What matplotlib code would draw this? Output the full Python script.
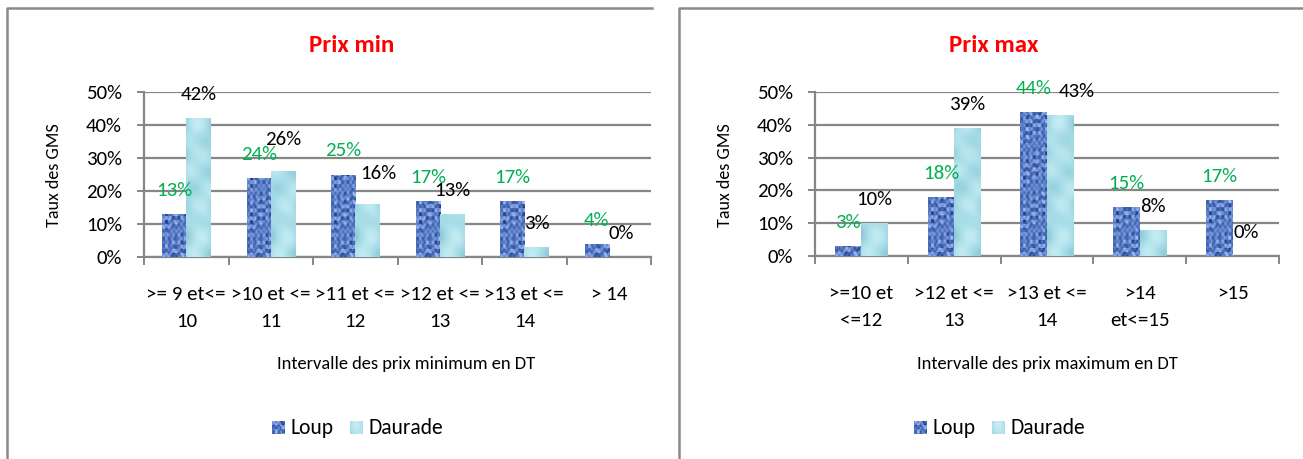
import numpy as np
import matplotlib
matplotlib.use("Agg")
import matplotlib.pyplot as plt
from matplotlib import font_manager
from matplotlib.colors import LinearSegmentedColormap
from matplotlib.lines import Line2D

# ---- data -------------------------------------------------------------
series_names = ["Loup", "Daurade"]

min_categories = [">= 9 et<=\n10", ">10 et <=\n11", ">11 et <=\n12",
                  ">12 et <=\n13", ">13 et <=\n14", "> 14"]
min_loup = [0.13, 0.24, 0.25, 0.17, 0.17, 0.04]
min_daurade = [0.42, 0.26, 0.16, 0.13, 0.03, 0.00]

max_categories = [">=10 et\n<=12", ">12 et <=\n13", ">13 et <=\n14",
                  ">14\net<=15", ">15"]
max_loup = [0.03, 0.18, 0.44, 0.15, 0.17]
max_daurade = [0.10, 0.39, 0.43, 0.08, 0.00]

yticks = [0.0, 0.1, 0.2, 0.3, 0.4, 0.5]

# ---- style ------------------------------------------------------------
W, H = 1303, 459
DPI = 100
installed = {f.name for f in font_manager.fontManager.ttflist}
FONT = "Carlito" if "Carlito" in installed else "Lato"
plt.rcParams["font.family"] = [FONT, "DejaVu Sans"]

GRID = "#868686"
BORDER = "#8a8a8a"
GREEN = "#00b050"
BAR_W = 1 / 3.5  # gap width 150 %
LABEL_FS = 15

loup_cmap = LinearSegmentedColormap.from_list(
    "loup", ["#102a70", "#2f52a2", "#5a7dc8", "#93aee6", "#c2d3f3"])
daurade_cmap = LinearSegmentedColormap.from_list(
    "daurade", ["#86c4d3", "#a3dae6", "#bfe9f0", "#dcf5f8"])


def weave(h, w):
    # blocky woven texture for the "Loup" fill
    y, x = np.mgrid[0:h, 0:w].astype(float)
    bx = np.floor(x / 3.0)
    by = np.floor(y / 4.0)
    v = (0.5 + 0.22 * np.sin(bx * 2.3 + by * 1.1) * np.cos(by * 1.7 - bx)
         + 0.16 * np.sin(x * 1.3) * np.cos(y * 0.9)
         + 0.12 * np.cos(bx * 0.9 - by * 2.9))
    return np.clip(v, 0, 1)


def water(h, w):
    y, x = np.mgrid[0:h, 0:w].astype(float)
    v = (0.5 + 0.16 * np.sin(x / 5.0 + y / 11.0) * np.cos(y / 7.0)
         + 0.1 * np.cos((x - y) / 6.5)
         - 0.18 * (np.abs(x - w / 2) / max(w / 2, 1)) ** 2)
    return np.clip(v, 0, 1)


def textured_bars(ax, x, heights, offset, cmap, maker, base):
    bars = ax.bar(x + offset, heights, BAR_W, color=base, linewidth=0,
                  zorder=3)
    for b in bars:
        bx, bw, bh = b.get_x(), b.get_width(), b.get_height()
        if bh <= 0:
            continue
        p0 = ax.transData.transform((bx, 0))
        p1 = ax.transData.transform((bx + bw, bh))
        wp = max(int(abs(p1[0] - p0[0])), 2)
        hp = max(int(abs(p1[1] - p0[1])), 2)
        im = ax.imshow(maker(hp, wp), cmap=cmap, vmin=0, vmax=1,
                       extent=(bx, bx + bw, 0, bh), aspect="auto",
                       interpolation="bilinear", zorder=4, origin="lower")
        im.set_clip_path(b)
    return bars


def draw_panel(fig, rect, cats, loup, daurade, xmax, title, xtitle,
               title_x, ylab_x, xtitle_x, legend_x, nudges):
    ax = fig.add_axes(rect)
    n = len(cats)
    x = np.arange(n)
    ax.set_xlim(-0.5, xmax)
    ax.set_ylim(0, 0.5)
    ax.set_autoscale_on(False)

    for s in ("top", "right"):
        ax.spines[s].set_visible(False)
    for s in ("left", "bottom"):
        ax.spines[s].set_color(GRID)
        ax.spines[s].set_linewidth(1.6)
    ax.set_yticks(yticks)
    ax.set_yticklabels([f"{int(round(t * 100))}%" for t in yticks])
    ax.yaxis.grid(True, color=GRID, linewidth=1.6, zorder=0)
    ax.set_axisbelow(True)
    ax.tick_params(axis="y", length=5, width=1.4, color=GRID, pad=11,
                   labelsize=LABEL_FS)
    ax.set_xticks(x)
    ax.set_xticklabels(cats, linespacing=1.72)
    ax.set_xticks(np.arange(n + 1) - 0.5, minor=True)
    ax.tick_params(axis="x", which="major", length=0, pad=21,
                   labelsize=LABEL_FS)
    ax.tick_params(axis="x", which="minor", length=5.5, width=1.4,
                   color=GRID)

    fig.canvas.draw()
    textured_bars(ax, x, loup, -BAR_W / 2, loup_cmap, weave, "#5777c0")
    textured_bars(ax, x, daurade, BAR_W / 2, daurade_cmap, water, "#a9dfe9")

    for i in range(n):
        dx0, dy0 = nudges.get(("l", i), (0, 0))
        ax.annotate(f"{int(round(loup[i] * 100))}%",
                    (x[i] - BAR_W / 2, loup[i]),
                    xytext=(dx0, 17 + dy0), textcoords="offset points",
                    ha="center", va="center", color=GREEN,
                    fontsize=LABEL_FS, zorder=6, annotation_clip=False)
        dx1, dy1 = nudges.get(("d", i), (0, 0))
        ax.annotate(f"{int(round(daurade[i] * 100))}%",
                    (x[i] + BAR_W / 2, daurade[i]),
                    xytext=(dx1, 17 + dy1), textcoords="offset points",
                    ha="center", va="center", color="black",
                    fontsize=LABEL_FS, zorder=6, annotation_clip=False)

    fig.text(title_x / W, 1 - 45 / H, title, color="#ff0000",
             fontsize=18, fontweight="bold", ha="center", va="center")
    fig.text(ylab_x / W, 1 - 175 / H, "Taux des GMS", rotation=90,
             fontsize=13, ha="center", va="center")
    fig.text(xtitle_x / W, 1 - 364 / H, xtitle, fontsize=13.3,
             ha="center", va="center")

    # legend row
    ly = 428
    handles = [(loup_cmap, weave), (daurade_cmap, water)]
    xs = [legend_x - 84, legend_x - 6]
    for (cm, mk), name, lx in zip(handles, series_names, xs):
        sw = cm(mk(13, 13))
        fig.figimage((sw * 255).astype(np.uint8), xo=int(lx),
                     yo=int(H - ly - 6), zorder=5)
        fig.text((lx + 18) / W, 1 - ly / H, name, fontsize=15.5,
                 ha="left", va="center")
    return ax


fig = plt.figure(figsize=(W / DPI, H / DPI), dpi=DPI)
fig.patch.set_facecolor("white")

# panel frames
for xs_, ys_ in [((7, 7, 652), (459, 7.5, 7.5)),
                 ((679, 679, 1303), (459, 7.5, 7.5))]:
    fig.add_artist(Line2D([v / W for v in xs_], [1 - v / H for v in ys_],
                          color=BORDER, linewidth=1.8,
                          transform=fig.transFigure))

ax_l_rect = [144 / W, 1 - 257 / H, 507 / W, 165 / H]
ax_r_rect = [815 / W, 1 - 256 / H, 464 / W, 164 / H]

draw_panel(fig, ax_l_rect, min_categories, min_loup, min_daurade,
           -0.5 + 507 / 87.4, "Prix min",
           "Intervalle des prix minimum en DT",
           352, 54, 406, 356,
           {("d", 1): (0, 6), ("d", 2): (8, 5)})
draw_panel(fig, ax_r_rect, max_categories, max_loup, max_daurade,
           4.5, "Prix max", "Intervalle des prix maximum en DT",
           994, 725, 1047, 998,
           {("d", 2): (12, 0)})

fig.savefig("out.png", dpi=DPI, facecolor="white")
